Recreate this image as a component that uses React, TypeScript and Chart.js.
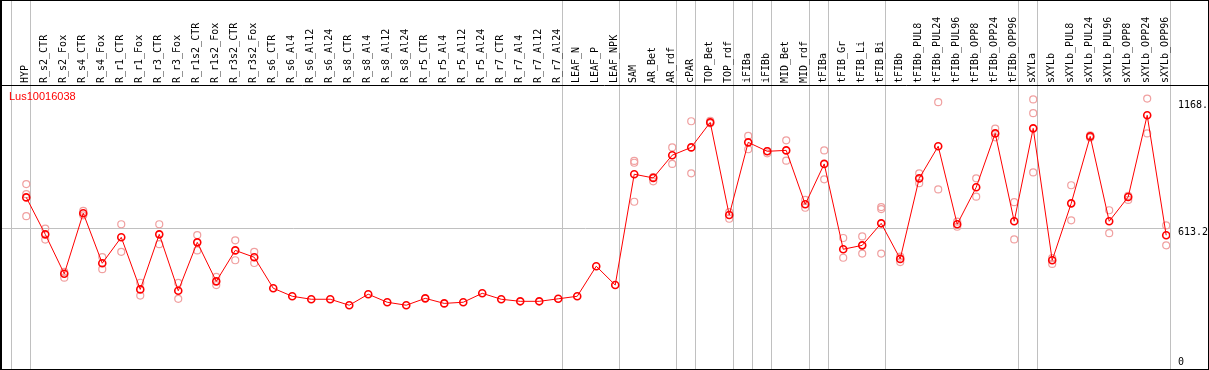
import React, { useEffect, useRef } from "react";
import { Chart, registerables } from "chart.js";

Chart.register(...registerables);

const categories = [
  "HYP", "R_s2_CTR", "R_s2_Fox", "R_s4_CTR", "R_s4_Fox", "R_r1_CTR", "R_r1_Fox", "R_r3_CTR", "R_r3_Fox",
  "R_r1s2_CTR", "R_r1s2_Fox", "R_r3s2_CTR", "R_r3s2_Fox", "R_s6_CTR", "R_s6_Al4", "R_s6_Al12", "R_s6_Al24",
  "R_s8_CTR", "R_s8_Al4", "R_s8_Al12", "R_s8_Al24", "R_r5_CTR", "R_r5_Al4", "R_r5_Al12", "R_r5_Al24",
  "R_r7_CTR", "R_r7_Al4", "R_r7_Al12", "R_r7_Al24", "LEAF_N", "LEAF_P", "LEAF_NPK", "SAM", "AR_Bet", "AR_rdf",
  "cPAR", "TOP_Bet", "TOP_rdf", "iFIBa", "iFIBb", "MID_Bet", "MID_rdf", "tFIBa", "tFIB_Gr", "tFIB_Li", "tFIB_Bi",
  "tFIBb", "tFIBb_PUL8", "tFIBb_PUL24", "tFIBb_PUL96", "tFIBb_OPP8", "tFIBb_OPP24", "tFIBb_OPP96", "sXYLa",
  "sXYLb", "sXYLb_PUL8", "sXYLb_PUL24", "sXYLb_PUL96", "sXYLb_OPP8", "sXYLb_OPP24", "sXYLb_OPP96",
];

const meanValues = [
  748, 587, 415, 679, 461, 574, 347, 587, 341, 552, 382, 517, 487, 352, 317, 304, 304,
  278, 326, 291, 278, 308, 286, 291, 330, 304, 295, 295, 306, 317, 448, 366, 849, 833, 932,
  966, 1075, 671, 988, 949, 953, 718, 894, 522, 539, 635,
  480, 831, 971, 631, 792, 1027, 644, 1049,
  474, 722, 1014, 644, 750, 1106, 583,
];

const replicateA = [
  806, 612, 423, 689, 488, 631, 376, 631, 375, 584, 402, 561, 511, null, null, null, null,
  null, null, null, null, null, null, null, null, null, null, null, null, null, null, null, 907, 837, 966,
  1080, 1082, 684, 1016, 940, 997, 737, 953, 571, 578, 706,
  490, 853, 1163, 642, 831, 1048, 727, 1175,
  483, 801, 1019, 692, 755, 1179, 626,
];

const replicateB = [
  762, 564, 398, 670, 435, 511, 320, 544, 306, 517, 366, 474, 462, null, null, null, null,
  null, null, null, null, null, null, null, null, null, null, null, null, null, null, null, 899, 818, 894,
  853, 1071, 655, 958, 950, 908, 703, 827, 485, 503, 697,
  466, 810, 783, 620, 751, 1010, 565, 1115,
  458, 648, 1008, 592, 737, 1027, 539,
];

const replicateC = [
  666, null, null, null, null, null, null, null, null, null, null, null, null, null, null, null, null,
  null, null, null, null, null, null, null, null, null, null, null, null, null, null, null, 729, null, null,
  null, null, null, null, null, null, null, null, null, null, 503,
  null, null, null, null, null, null, null, 857,
  null, null, null, null, null, null, null,
];

// index of the category after which a grey separator is drawn (-1 = before the first)
const separatorsAfter = [-1, 0, 28, 31, 34, 35, 37, 38, 39, 41, 42, 45, 52, 53, 60];

const yTickValues = [1168, 613.2, 0];
const yTickLabels = ["1168.", "613.2", "0"];
const referenceLine = 613.2;
const geneName = "Lus10016038";

const Y_MIN = 0;
const Y_MAX = 1238;
const X_MIN = -1.33;
const X_MAX = 60.2;

const decorPlugin = {
  id: "decor",
  beforeDraw(chart: any) {
    const { ctx, chartArea, scales } = chart;
    const xs = scales.x;
    const ys = scales.y;
    ctx.save();
    ctx.fillStyle = "#ffffff";
    ctx.fillRect(0, 0, chart.width, chart.height);
    ctx.strokeStyle = "#c0c0c0";
    ctx.lineWidth = 1;
    separatorsAfter.forEach((i) => {
      const x = Math.round(xs.getPixelForValue(i + 0.21)) + 0.5;
      ctx.beginPath();
      ctx.moveTo(x, 0);
      ctx.lineTo(x, chartArea.bottom);
      ctx.stroke();
    });
    const yr = Math.round(ys.getPixelForValue(referenceLine)) + 0.5;
    ctx.beginPath();
    ctx.moveTo(chartArea.left, yr);
    ctx.lineTo(chartArea.right, yr);
    ctx.stroke();
    ctx.restore();
  },
  afterDraw(chart: any) {
    const { ctx, chartArea, scales } = chart;
    const ys = scales.y;
    ctx.save();
    ctx.strokeStyle = "#000000";
    ctx.lineWidth = 1;
    // outer frame
    ctx.strokeRect(0.5, 0.5, chart.width - 1, chartArea.bottom);
    ctx.beginPath();
    ctx.moveTo(1.5, 0);
    ctx.lineTo(1.5, chartArea.bottom);
    ctx.stroke();
    // header separator
    ctx.beginPath();
    ctx.moveTo(0, chartArea.top + 0.5);
    ctx.lineTo(chart.width, chartArea.top + 0.5);
    ctx.stroke();
    // right tick labels
    ctx.fillStyle = "#000000";
    ctx.font = "10px 'DejaVu Sans Mono'";
    ctx.textAlign = "left";
    ctx.textBaseline = "middle";
    yTickValues.forEach((v, k) => {
      const py = Math.min(ys.getPixelForValue(v) + 4.5, chartArea.bottom - 7);
      ctx.fillText(yTickLabels[k], chartArea.right + 8, py);
    });
    // gene name
    ctx.fillStyle = "#ff0000";
    ctx.font = "11px 'Liberation Sans'";
    ctx.fillText(geneName, chartArea.left + 8, chartArea.top + 12);
    ctx.restore();
  },
};

export default function App() {
  const canvasRef = useRef<HTMLCanvasElement | null>(null);

  useEffect(() => {
    document.body.style.margin = "0";
    const canvas = canvasRef.current;
    if (!canvas) return;

    const meanData = meanValues.map((v, i) => ({ x: i, y: v }));
    const repData: { x: number; y: number }[] = [];
    [replicateA, replicateB, replicateC].forEach((arr) => {
      arr.forEach((v, i) => {
        if (v !== null) repData.push({ x: i, y: v as number });
      });
    });

    const chart = new Chart(canvas, {
      type: "line",
      data: {
        datasets: [
          {
            label: "mean",
            data: meanData,
            borderColor: "#ff0000",
            borderWidth: 1,
            pointRadius: 3.5,
            pointBorderWidth: 1.6,
            pointBorderColor: "#ff0000",
            pointBackgroundColor: "rgba(255,255,255,0)",
            pointStyle: "circle",
            tension: 0,
          },
          {
            label: "replicates",
            data: repData,
            showLine: false,
            borderColor: "#f0a0a0",
            pointRadius: 3.5,
            pointBorderWidth: 1.2,
            pointBorderColor: "#f0a0a0",
            pointBackgroundColor: "rgba(255,255,255,0)",
          },
        ],
      },
      options: {
        responsive: false,
        animation: false,
        devicePixelRatio: 1,
        layout: { autoPadding: false, padding: { left: 1, right: 0, top: 0, bottom: 1 } },
        plugins: {
          legend: { display: false },
          tooltip: { enabled: false },
          title: { display: false },
        },
        scales: {
          x: {
            type: "linear",
            position: "top",
            min: X_MIN,
            max: X_MAX,
            grid: { display: false, drawTicks: false },
            border: { display: false },
            afterBuildTicks: (scale: any) => {
              scale.ticks = categories.map((_, i) => ({ value: i }));
            },
            afterFit: (scale: any) => {
              scale.height = 85;
              scale.paddingLeft = 0;
              scale.paddingRight = 0;
              scale.paddingTop = 0;
              scale.paddingBottom = 0;
            },
            ticks: {
              autoSkip: false,
              minRotation: 90,
              maxRotation: 90,
              padding: 2,
              labelOffset: 11,
              color: "#000000",
              font: { family: "'DejaVu Sans Mono'", size: 10 },
              callback: (v: any) => categories[Math.round(Number(v))] ?? "",
            },
          },
          y: {
            type: "linear",
            position: "right",
            min: Y_MIN,
            max: Y_MAX,
            grid: { display: false },
            border: { display: false },
            ticks: { display: false },
            afterFit: (scale: any) => {
              scale.width = 39;
              scale.paddingTop = 0;
              scale.paddingBottom = 0;
            },
          },
        },
      },
      plugins: [decorPlugin],
    });

    return () => chart.destroy();
  }, []);

  return (
    <div style={{ width: 1209, height: 370 }}>
      <canvas ref={canvasRef} width={1209} height={370} />
    </div>
  );
}
